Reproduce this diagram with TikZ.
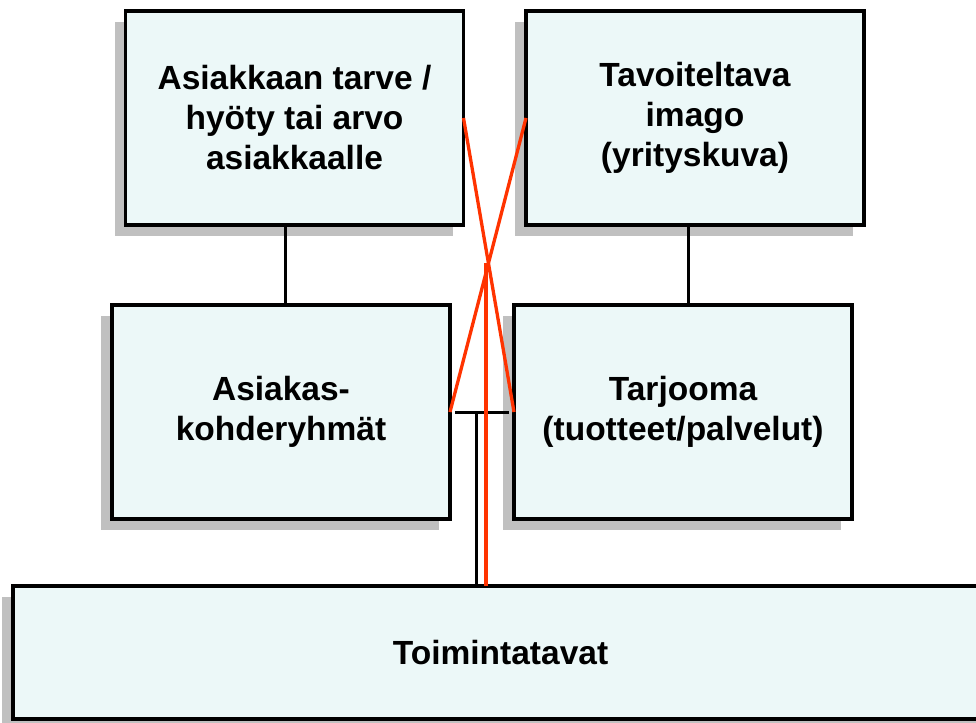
\documentclass[tikz,border=0pt]{standalone}
\usepackage{fontspec}
\setmainfont{Liberation Sans}
\usetikzlibrary{shadows}
\definecolor{boxfill}{RGB}{236,248,248}
\definecolor{shadowgray}{RGB}{192,192,192}
\definecolor{redline}{RGB}{255,51,0}
\begin{document}
\begin{tikzpicture}[x=1pt,y=-1pt,
  box/.style={draw=black, line width=3.5pt, fill=boxfill, rectangle, outer sep=0pt,
    minimum width=338pt, minimum height=214pt, align=center,
    font=\fontsize{33.5}{40}\selectfont\bfseries,
    drop shadow={shadow xshift=-11pt, shadow yshift=-11pt, fill=shadowgray, opacity=1, draw=none}},
  blackline/.style={draw=black, line width=3pt},
  redl/.style={draw=redline, line width=3.3pt}]
\useasboundingbox (0,0) rectangle (976,722);
\node[box] (b1) at (294.5,118) {Asiakkaan tarve /\\hyöty tai arvo\\asiakkaalle};
\node[box] (b2) at (695,118) {Tavoiteltava\\imago\\(yrityskuva)};
\node[box] (b3) at (281,412) {Asiakas-\\kohderyhmät};
\node[box] (b4) at (683,412) {Tarjooma\\(tuotteet/palvelut)};
\node[box, minimum width=975pt, minimum height=133pt] (b5) at (500.5,652.5) {Toimintatavat};
\coordinate (xl) at (285,0);
\coordinate (xr) at (688,0);
\coordinate (tl) at (455,412);
\coordinate (tr) at (509,412);
\coordinate (tm) at (476,412);
\draw[blackline] (b1.south -| xl) -- (b3.north -| xl);
\draw[blackline] (b2.south -| xr) -- (b4.north -| xr);
\draw[blackline] (tl) -- (tr);
\draw[blackline] (tm) -- (tm |- b5.north);
\coordinate (cross) at (intersection of b1.east--b4.west and b2.west--b3.east);
\coordinate (rv) at (486,0);
\draw[redl] (b1.east) -- (b4.west);
\draw[redl] (b2.west) -- (b3.east);
\draw[redl] (rv |- cross) -- (rv |- b5.north);
\end{tikzpicture}
\end{document}
